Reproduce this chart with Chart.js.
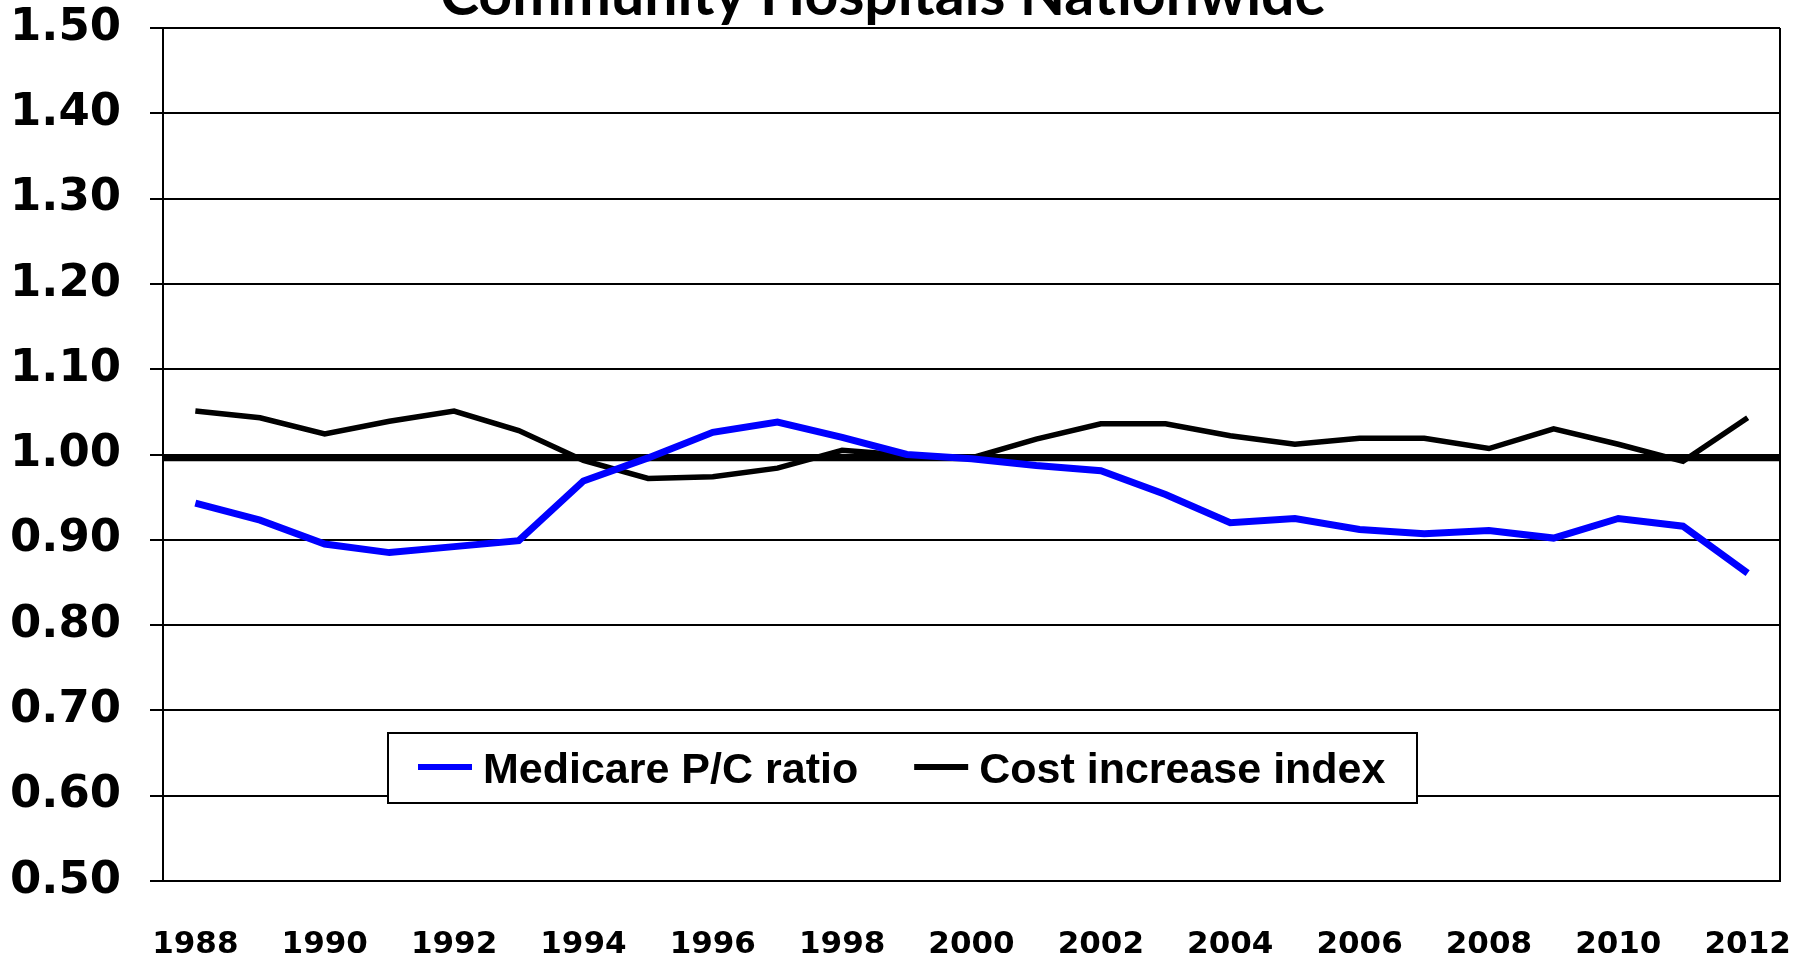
<!DOCTYPE html>
<html>
<head>
<meta charset="utf-8">
<title>Community Hospitals Nationwide</title>
<script src="https://cdn.jsdelivr.net/npm/chart.js@4.4.0/dist/chart.umd.min.js"></script>
<style>
  html, body { margin: 0; padding: 0; background: #fff; }
</style>
</head>
<body>
<canvas id="canvas" width="1804" height="960"></canvas>
<script>
// ---- data ----
var chartTitle = 'Community Hospitals Nationwide';
var years = ['1988', '1989', '1990', '1991', '1992', '1993', '1994', '1995', '1996', '1997',
             '1998', '1999', '2000', '2001', '2002', '2003', '2004', '2005', '2006', '2007',
             '2008', '2009', '2010', '2011', '2012'];
var medicareRatio = [0.943, 0.923, 0.895, 0.885, 0.892, 0.899, 0.969, 0.996, 1.026, 1.038,
                     1.020, 1.000, 0.995, 0.987, 0.981, 0.953, 0.920, 0.925, 0.912, 0.907,
                     0.911, 0.902, 0.925, 0.916, 0.861];
var costIndex = [1.051, 1.043, 1.024, 1.039, 1.051, 1.028, 0.993, 0.972, 0.974, 0.984,
                 1.005, 0.999, 0.996, 1.018, 1.036, 1.036, 1.022, 1.012, 1.019, 1.019,
                 1.007, 1.030, 1.012, 0.992, 1.043];
var yMin = 0.5, yMax = 1.5, yStep = 0.1;
var breakEven = 0.996;   // heavy reference line

// draws the heavy line, the right frame, the clipped title and the boxed legend
var extras = {
    id: 'extras',
    beforeDatasetsDraw: function(chart) {
        var ctx = chart.ctx;
        var a = chart.chartArea;
        var y = chart.scales.y.getPixelForValue(breakEven);
        ctx.save();
        ctx.strokeStyle = '#000';
        ctx.lineWidth = 6.5;
        ctx.beginPath();
        ctx.moveTo(a.left, y);
        ctx.lineTo(a.right, y);
        ctx.stroke();
        ctx.lineWidth = 2;
        ctx.beginPath();
        ctx.moveTo(a.right, a.top);
        ctx.lineTo(a.right, a.bottom);
        ctx.stroke();
        ctx.restore();
    },
    afterDraw: function(chart) {
        var ctx = chart.ctx;
        ctx.save();
        // title, partly cut off by the top edge like the original
        ctx.fillStyle = '#000';
        ctx.font = 'bold 59px Lato';
        ctx.textAlign = 'center';
        ctx.textBaseline = 'alphabetic';
        ctx.fillText(chartTitle, 883, 15);

        // legend box
        ctx.fillStyle = '#fff';
        ctx.fillRect(388, 733, 1029, 70);
        ctx.strokeStyle = '#000';
        ctx.lineWidth = 2;
        ctx.strokeRect(388, 733, 1029, 70);
        ctx.font = 'bold 43px "Liberation Sans"';
        ctx.textAlign = 'left';
        var x = 418;
        chart.data.datasets.forEach(function(ds) {
            ctx.strokeStyle = ds.borderColor;
            ctx.lineWidth = 6;
            ctx.beginPath();
            ctx.moveTo(x, 767);
            ctx.lineTo(x + 54, 767);
            ctx.stroke();
            ctx.fillStyle = '#000';
            ctx.fillText(ds.label, x + 65, 783);
            x += 65 + ctx.measureText(ds.label).width + 56;
        });
        ctx.restore();
    }
};

var ctx = document.getElementById('canvas').getContext('2d');
var myChart = new Chart(ctx, {
    type: 'line',
    data: {
        labels: years,
        datasets: [{
            label: 'Medicare P/C ratio',
            data: medicareRatio,
            borderColor: '#0000ff',
            backgroundColor: 'transparent',
            borderWidth: 7,
            pointRadius: 0,
            tension: 0
        },
        {
            label: 'Cost increase index',
            data: costIndex,
            borderColor: '#000000',
            backgroundColor: 'transparent',
            borderWidth: 5.5,
            pointRadius: 0,
            tension: 0
        }]
    },
    options: {
        responsive: false,
        animation: false,
        devicePixelRatio: 1,
        layout: { padding: { left: 0, right: 24, top: 28, bottom: 0 } },
        plugins: {
            legend: { display: false },
            title: { display: false },
            tooltip: { enabled: false }
        },
        scales: {
            x: {
                offset: true,
                grid: { display: false, drawTicks: false },
                border: { display: true, color: '#000', width: 2 },
                ticks: {
                    autoSkip: false,
                    maxRotation: 0,
                    padding: 45,
                    color: '#000',
                    font: { family: 'DejaVu Sans', weight: 'bold', size: 31 },
                    callback: function(value, index) {
                        return index % 2 === 0 ? this.getLabelForValue(value) : '';
                    }
                },
                afterFit: function(scale) {
                    scale.height = 79;
                    scale.paddingLeft = 0;
                    scale.paddingRight = 0;
                }
            },
            y: {
                min: yMin,
                max: yMax,
                grid: { color: '#000', lineWidth: 2, tickLength: 13 },
                border: { color: '#000', width: 2 },
                ticks: {
                    stepSize: yStep,
                    padding: 29,
                    color: '#000',
                    font: { family: 'DejaVu Sans', weight: 'bold', size: 45 },
                    callback: function(value) { return value.toFixed(2); }
                },
                afterFit: function(scale) {
                    scale.width = 163;
                    scale.paddingTop = 0;
                    scale.paddingBottom = 0;
                }
            }
        }
    },
    plugins: [extras]
});
</script>
</body>
</html>
